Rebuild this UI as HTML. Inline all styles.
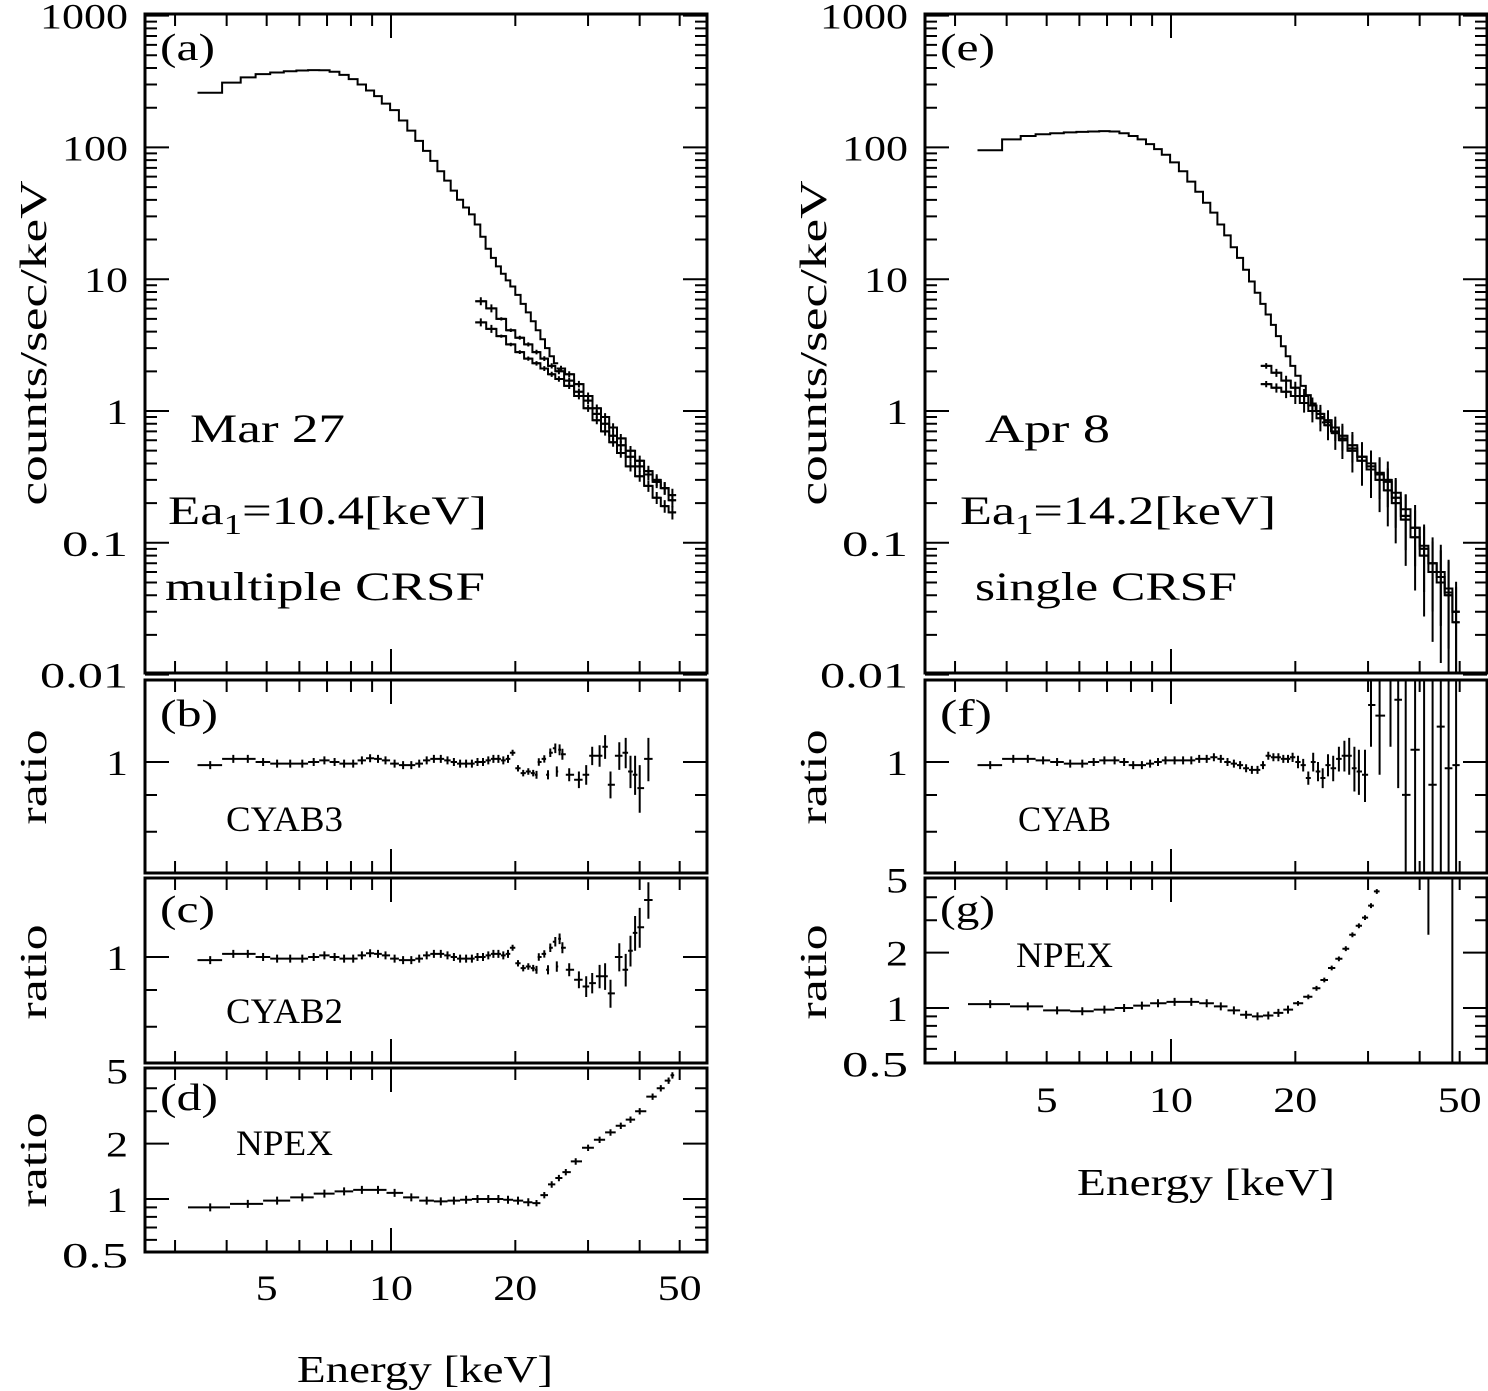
<!DOCTYPE html>
<html><head><meta charset="utf-8"><style>
html,body{margin:0;padding:0;background:#fff;overflow:hidden}
svg{display:block}
text{font-family:"Liberation Serif",serif;fill:#000}
</style></head><body>
<svg id="chart" width="1488" height="1391" viewBox="0 0 1488 1391" xmlns="http://www.w3.org/2000/svg"></svg>
<script>
// ---------- data ----------
const gridA = [3.65,4.15,4.5,4.9,5.3,5.7,6.1,6.5,6.9,7.3,7.7,8.1,8.5,8.9,9.3,9.7,10.2,10.7,11.2,11.7,12.2,12.7,13.2,13.7,14.2,14.7,15.2,15.7,16.2,16.7,17.2,17.7,18.2,18.7,19.2,19.7,20.3,20.9,21.5,22.1,22.7,23.3,23.9,24.5,25.1];
const specA = [260,310,340,360,370,378,383,386,385,375,355,330,300,270,245,215,192,160,134,112,94,79,66,56,47,40,35,31,26,21,17,14.5,12.5,11,9.8,8.8,7.6,6.5,5.6,4.8,4.1,3.5,3.0,2.6,2.3];
const tailEA = [16.5,17.5,18.5,19.5,20.5,21.5,22.5,23.5,24.5,25.5,27,28.5,30,31.5,33,34.5,36,38,40,42,44,46,48];
const tailA1 = [6.8,6.0,5.0,4.1,3.6,3.2,2.8,2.5,2.2,2.0,1.7,1.4,1.2,0.95,0.8,0.65,0.55,0.45,0.38,0.33,0.29,0.26,0.23];
const tailA2 = [4.7,4.2,3.7,3.2,2.8,2.5,2.3,2.1,1.9,1.75,1.55,1.3,1.05,0.85,0.7,0.58,0.48,0.38,0.32,0.27,0.22,0.19,0.17];
const tailA3E = [25.8,27,28.5,30,31.5,33,34.5,36,38,40,42,44,46,48];
const tailA3 = [2.1,1.9,1.6,1.3,1.05,0.9,0.75,0.62,0.5,0.42,0.35,0.3,0.26,0.21];

const gridE = [3.65,4.15,4.5,4.9,5.3,5.7,6.1,6.5,6.9,7.3,7.7,8.1,8.5,8.9,9.3,9.7,10.2,10.7,11.2,11.7,12.2,12.7,13.2,13.7,14.2,14.7,15.2,15.7,16.2,16.7,17.2,17.7,18.2,18.7,19.2,19.7,20.3,20.9,21.5,22.1,22.7,23.3];
const specE = [95,115,122,126,128,130,131,132,133,132,128,122,115,106,97,88,77,66,55,46,38,32,26,21.5,17.5,14.5,11.8,9.6,7.9,6.5,5.4,4.5,3.7,3.1,2.6,2.2,1.85,1.55,1.32,1.14,1.0,0.9];
const tailEE = [17,18,19,20,21,22,23,24,25,26,27.5,29,30.5,32,33.5,35,37,39,41,43,45,47,49];
const tailE1 = [2.2,1.95,1.7,1.5,1.3,1.1,0.95,0.85,0.75,0.65,0.55,0.45,0.38,0.33,0.3,0.22,0.16,0.13,0.09,0.07,0.06,0.045,0.03];
const tailE2 = [1.6,1.5,1.4,1.3,1.15,1.0,0.88,0.78,0.68,0.6,0.5,0.42,0.36,0.3,0.25,0.2,0.15,0.11,0.08,0.06,0.05,0.04,0.025];
const tailE3E = [23.8,25,26,27.5,29,30.5,32,33.5,35,37,39,41,43,45,47,49];
const tailE3 = [0.82,0.7,0.62,0.52,0.45,0.4,0.34,0.29,0.24,0.18,0.13,0.095,0.07,0.055,0.042,0.03];

const ratioLowE = [3.65,4.15,4.5,4.9,5.3,5.7,6.1,6.5,6.9,7.3,7.7,8.1,8.5,8.9,9.3,9.7,10.2,10.7,11.2,11.7,12.2,12.7,13.2,13.7,14.2,14.7,15.2,15.7,16.2,16.7,17.2,17.7,18.2,18.7,19.2];
const ratioBLow = [0.99,1.01,1.01,1.0,0.995,0.995,0.995,1.0,1.005,1.0,0.995,0.995,1.005,1.012,1.01,1.005,0.995,0.99,0.99,0.995,1.005,1.01,1.01,1.005,1.0,0.995,0.995,0.995,1.0,1.0,1.005,1.01,1.01,1.005,1.01];
const ratioBHiE = [19.7,20.3,20.9,21.5,22.1,22.5,22.8,23.5,24.0,24.3,25.0,25.2,25.6,26.0,27,28.5,29.7,30.7,32,33,34,35.7,37,38,39,40,42];
const ratioBHi = [1.03,0.98,0.965,0.97,0.965,0.96,1.0,1.01,0.96,1.03,1.045,0.97,1.04,1.025,0.96,0.945,0.96,1.02,1.02,1.05,0.93,1.02,1.03,0.97,0.96,0.92,1.01];
const ratioBErr = [0.01,0.01,0.01,0.01,0.01,0.012,0.012,0.012,0.014,0.014,0.016,0.016,0.018,0.018,0.02,0.025,0.03,0.03,0.035,0.04,0.04,0.045,0.05,0.05,0.06,0.07,0.07];
const ratioCHi = [1.03,0.98,0.965,0.97,0.965,0.96,1.0,1.01,0.96,1.03,1.05,0.97,1.06,1.03,0.96,0.93,0.91,0.92,0.94,0.94,0.89,1.0,0.96,1.02,1.08,1.1,1.2];
const ratioDE = [3.65,4.5,5.3,6.1,6.9,7.7,8.5,9.3,10.2,11.2,12.2,13.2,14.2,15.2,16.2,17.2,18.2,19.2,20.3,21.5,22.5,23.5,24.5,25.5,26.5,28,30,32,34,36,38,40,43,45,47,48];
const ratioD = [0.9,0.94,0.98,1.02,1.07,1.1,1.12,1.12,1.08,1.02,0.98,0.97,0.98,0.99,1.0,1.0,1.0,0.99,0.98,0.96,0.95,1.05,1.2,1.3,1.4,1.6,1.9,2.1,2.3,2.5,2.7,3.0,3.6,4.0,4.4,4.7];
const ratioFLow = [0.99,1.01,1.01,1.005,1.0,0.995,0.995,1.0,1.005,1.005,1.0,0.99,0.99,0.995,1.0,1.005,1.005,1.005,1.005,1.01,1.01,1.015,1.01,1.0,0.995,0.99,0.98,0.975,0.975,0.99,1.02,1.015,1.015,1.01,1.01];
const ratioFHiE = [19.7,20.3,20.9,21.5,22.1,22.7,23.3,24,24.7,25.5,26.3,27,27.8,28.5,29.5,30.5,32,34,35.5,37,39,41,43,45,47,49];
const ratioF = [1.015,1.0,0.99,0.95,1.0,0.97,0.95,0.99,0.98,1.01,1.02,1.02,0.98,0.97,0.96,1.2,1.16,1.3,1.22,0.9,1.04,0.7,0.93,1.12,0.98,0.99];
const ratioFErr = [0.015,0.02,0.02,0.02,0.03,0.03,0.03,0.035,0.04,0.04,0.05,0.06,0.07,0.07,0.08,0.15,0.2,0.25,0.3,0.4,0.5,0.6,0.7,0.8,1.0,1.0];
const ratioGE = [3.65,4.5,5.3,6.1,6.9,7.7,8.5,9.3,10.2,11.2,12.2,13.2,14.2,15.2,16.2,17.2,18.2,19.2,20.3,21.5,22.5,23.5,24.5,25.5,26.5,27.5,28.5,29.5,30.5,31.5];
const ratioG = [1.05,1.02,0.97,0.96,0.98,1.0,1.03,1.06,1.08,1.08,1.06,1.02,0.97,0.92,0.9,0.91,0.94,0.98,1.06,1.15,1.28,1.42,1.65,1.85,2.1,2.5,2.8,3.1,3.6,4.3];

const yTickMain = ["1000","100","10","1","0.1","0.01"];
const yTickMainVal = [1000,100,10,1,0.1,0.01];
const xTickVal = [5,10,20,50];
const xTickLab = ["5","10","20","50"];

// ---------- helpers ----------
const svg = document.getElementById('chart');
const NS = 'http://www.w3.org/2000/svg';
function mk(tag, attrs, parent){const e=document.createElementNS(NS,tag);for(const k in attrs)e.setAttribute(k,attrs[k]);(parent||svg).appendChild(e);return e;}
const L=Math.log10;
function xAxis(off){return E=>off+391+413*L(E/10);}
const xl=xAxis(0), xr=xAxis(780);
function yLog(y1,k){return v=>y1-k*L(v);}
const yA=yLog(411,131.8);
const yB=yLog(762,720), yC=yLog(957,720), yD=yLog(1199,184), yF=yLog(762,720), yG=yLog(1008,184);

function edges(E){const ed=[];for(let i=0;i<E.length;i++){const lo=i===0?E[0]-(E[1]-E[0])/2:(E[i-1]+E[i])/2;const hi=i===E.length-1?E[i]+(E[i]-E[i-1])/2:(E[i]+E[i+1])/2;ed.push([lo,hi]);}return ed;}
function clipGroup(id,x0,y0,x1,y1,name){const cp=mk('clipPath',{id:id});mk('rect',{x:x0,y:y0,width:x1-x0,height:y1-y0},cp);const g=mk('g',{'clip-path':'url(#'+id+')'});return g;}
function stepLine(E,V,xf,yf,g,name){const ed=edges(E);let d='';ed.forEach((b,i)=>{const y=yf(V[i]);d+=(i===0?'M':'L')+xf(b[0]).toFixed(1)+','+y.toFixed(1)+'L'+xf(b[1]).toFixed(1)+','+y.toFixed(1);});const p=mk('path',{d:d,fill:'none',stroke:'#000','stroke-width':2},g);}
function crosses(E,V,Err,xf,yf,g,name,relErr,ymax){const ed=edges(E);let d='';ed.forEach((b,i)=>{const y=yf(V[i]);const x=xf(E[i]);d+='M'+xf(b[0]).toFixed(1)+','+y.toFixed(1)+'L'+xf(b[1]).toFixed(1)+','+y.toFixed(1);const e=Err?Err[i]:0;let lo,hi;if(relErr){lo=V[i]*(1-e);hi=V[i]*(1+e);}else{lo=V[i]-e;hi=V[i]+e;}const yl=lo>0?Math.min(yf(lo),ymax):ymax;const yh=yf(hi);if(Math.abs(yl-yh)>3)d+='M'+x.toFixed(1)+','+yh.toFixed(1)+'L'+x.toFixed(1)+','+yl.toFixed(1);else d+='M'+x.toFixed(1)+','+(y-4).toFixed(1)+'L'+x.toFixed(1)+','+(y+4).toFixed(1);});const p=mk('path',{d:d,fill:'none',stroke:'#000','stroke-width':2},g);}
function txt(x,y,s,size,anchor,name,w,extra){const a=Object.assign({x:x,y:y,'font-size':size,'text-anchor':anchor||'start'},extra||{});if(w){a.textLength=w;a.lengthAdjust='spacingAndGlyphs';}const t=mk('text',a);t.textContent=s;return t;}
function eaLabel(x,y,val,w,name){const t=mk('text',{x:x,y:y,'font-size':40,textLength:w,lengthAdjust:'spacingAndGlyphs'});
  const a=mk('tspan',{},t);a.textContent='Ea';const b=mk('tspan',{'font-size':28,dy:10},t);b.textContent='1';const c=mk('tspan',{dy:-10},t);c.textContent='='+val+'[keV]';}

const minorE=[3,4,5,6,7,8,9,20,30,40,50];
function frame(x0,y0,x1,y1,xf,name,yTicks){
  const g=mk('g',{});
  mk('rect',{x:x0,y:y0,width:x1-x0,height:y1-y0,fill:'none',stroke:'#000','stroke-width':3},g);
  let d='';
  minorE.forEach(E=>{const x=xf(E);d+=`M${x},${y0}v12M${x},${y1}v-12`;});
  const x10=xf(10);d+=`M${x10},${y0}v24M${x10},${y1}v-24`;
  (yTicks||[]).forEach(t=>{d+=`M${x0},${t[0]}h${t[1]}M${x1},${t[0]}h${-t[1]}`;});
  mk('path',{d:d,stroke:'#000','stroke-width':2,fill:'none'},g);
}
function mainTicks(yf){const t=[];for(let dec=-2;dec<=3;dec++){const b=Math.pow(10,dec);t.push([yf(b),24]);if(dec<3)for(let m=2;m<=9;m++)t.push([yf(b*m),12]);}return t;}
const rTicks=yf=>[[yf(1),24],[yf(0.9),12],[yf(0.8),12]];
const npTicks=yf=>[[yf(1),24],[yf(2),24],[yf(0.6),12],[yf(0.7),12],[yf(0.8),12],[yf(0.9),12],[yf(3),12],[yf(4),12]];

// ---------- panel (a) ----------
frame(145,14,707,673,xl,'panel-a-frame',mainTicks(yA));
let g=clipGroup('ca',145,14,707,673,'panel-a-data');
stepLine(gridA,specA,xl,yA,g,'mar27-model');
stepLine(tailEA,tailA1,xl,yA,g,'mar27-spectrum-1');
stepLine(tailEA,tailA2,xl,yA,g,'mar27-spectrum-2');
stepLine(tailA3E,tailA3,xl,yA,g,'mar27-spectrum-3');
crosses(tailEA,tailA1,tailEA.map(e=>0.02+(e-16)*0.003),xl,yA,g,'mar27-data-1',true,673);
crosses(tailEA,tailA2,tailEA.map(e=>0.02+(e-16)*0.003),xl,yA,g,'mar27-data-2',true,673);
crosses(tailA3E,tailA3,tailA3E.map(e=>0.02+(e-16)*0.003),xl,yA,g,'mar27-data-3',true,673);
yTickMain.forEach((s,i)=>txt(128,yA(yTickMainVal[i])+13,s,36,'end','y-tick-a',22*s.length));
txt(160,60,'(a)',38,'start','panel-label-a',55);
txt(190,442,'Mar 27',40,'start','date-label-mar27',155);
eaLabel(168,524,'10.4',319,'energy-label-a');
txt(165,600,'multiple CRSF',40,'start','model-label-a',320);
txt(46,343,'counts/sec/keV',38,'middle','y-axis-title-a',325,{transform:'rotate(-90 46 343)'});

// ---------- panel (b) ----------
frame(145,680,707,873,xl,'panel-b-frame',rTicks(yB));
g=clipGroup('cb',145,680,707,873,'panel-b-data');
crosses(ratioLowE,ratioBLow,ratioLowE.map(()=>0.003),xl,yB,g,'cyab3-ratio-low',false,873);
crosses(ratioBHiE,ratioBHi,ratioBErr,xl,yB,g,'cyab3-ratio-high',false,873);
txt(128,775,'1',36,'end','y-tick-b',22);
txt(160,726,'(b)',38,'start','panel-label-b',58);
txt(226,831,'CYAB3',36,'start','model-label-b',117);
txt(46,777,'ratio',38,'middle','y-axis-title-b',95,{transform:'rotate(-90 46 777)'});

// ---------- panel (c) ----------
frame(145,878,707,1063,xl,'panel-c-frame',rTicks(yC));
g=clipGroup('cc',145,878,707,1063,'panel-c-data');
crosses(ratioLowE,ratioBLow,ratioLowE.map(()=>0.003),xl,yC,g,'cyab2-ratio-low',false,1063);
crosses(ratioBHiE,ratioCHi,ratioBErr,xl,yC,g,'cyab2-ratio-high',false,1063);
txt(128,970,'1',36,'end','y-tick-c',22);
txt(160,922,'(c)',38,'start','panel-label-c',55);
txt(226,1023,'CYAB2',36,'start','model-label-c',117);
txt(46,972,'ratio',38,'middle','y-axis-title-c',95,{transform:'rotate(-90 46 972)'});

// ---------- panel (d) ----------
frame(145,1068,707,1252,xl,'panel-d-frame',npTicks(yD));
g=clipGroup('cd',145,1068,707,1252,'panel-d-data');
crosses(ratioDE,ratioD,ratioDE.map(e=>e<22?0.005:0.04),xl,yD,g,'npex-ratio-a',true,1252);
[[5,'5'],[2,'2'],[1,'1'],[0.5,'0.5']].forEach(t=>txt(128,yD(t[0])+13,t[1],36,'end','y-tick-d',22*t[1].length));
txt(160,1110,'(d)',38,'start','panel-label-d',58);
txt(236,1155,'NPEX',36,'start','model-label-d',97);
txt(46,1160,'ratio',38,'middle','y-axis-title-d',95,{transform:'rotate(-90 46 1160)'});
xTickVal.forEach((v,i)=>txt(xl(v),1300,xTickLab[i],36,'middle','x-tick-left',22*xTickLab[i].length));
txt(425,1382,'Energy [keV]',38,'middle','x-axis-title-left',256);

// ---------- panel (e) ----------
frame(925,14,1487,673,xr,'panel-e-frame',mainTicks(yA));
g=clipGroup('ce',925,14,1487,673,'panel-e-data');
stepLine(gridE,specE,xr,yA,g,'apr8-model');
stepLine(tailEE,tailE1,xr,yA,g,'apr8-spectrum-1');
stepLine(tailEE,tailE2,xr,yA,g,'apr8-spectrum-2');
stepLine(tailE3E,tailE3,xr,yA,g,'apr8-spectrum-3');
crosses(tailEE,tailE1,tailEE.map(e=>0.03+(e-16)*0.02),xr,yA,g,'apr8-data-1',true,673);
crosses(tailEE,tailE2,tailEE.map(e=>0.03+(e-16)*0.025),xr,yA,g,'apr8-data-2',true,673);
yTickMain.forEach((s,i)=>txt(908,yA(yTickMainVal[i])+13,s,36,'end','y-tick-e',22*s.length));
txt(940,60,'(e)',38,'start','panel-label-e',55);
txt(985,442,'Apr 8',40,'start','date-label-apr8',125);
eaLabel(960,524,'14.2',316,'energy-label-e');
txt(975,600,'single CRSF',40,'start','model-label-e',262);
txt(826,343,'counts/sec/keV',38,'middle','y-axis-title-e',325,{transform:'rotate(-90 826 343)'});

// ---------- panel (f) ----------
frame(925,680,1487,873,xr,'panel-f-frame',rTicks(yF));
g=clipGroup('cf',925,680,1487,873,'panel-f-data');
crosses(ratioLowE,ratioFLow,ratioLowE.map(()=>0.003),xr,yF,g,'cyab-ratio-low',false,873);
crosses(ratioFHiE,ratioF,ratioFErr,xr,yF,g,'cyab-ratio-high',false,873);
txt(908,775,'1',36,'end','y-tick-f',22);
txt(940,726,'(f)',38,'start','panel-label-f',52);
txt(1018,831,'CYAB',36,'start','model-label-f',93);
txt(826,777,'ratio',38,'middle','y-axis-title-f',95,{transform:'rotate(-90 826 777)'});

// ---------- panel (g) ----------
frame(925,878,1487,1063,xr,'panel-g-frame',npTicks(yG));
g=clipGroup('cg',925,878,1487,1063,'panel-g-data');
crosses(ratioGE,ratioG,ratioGE.map(e=>e<20?0.004:0.03),xr,yG,g,'npex-ratio-e',true,1063);
const gl=mk('path',{d:`M${xr(42)},878V${yG(2.5)}M${xr(48)},878V1063`,stroke:'#000','stroke-width':2},g);


[[5,'5'],[2,'2'],[1,'1'],[0.5,'0.5']].forEach(t=>txt(908,yG(t[0])+13,t[1],36,'end','y-tick-g',22*t[1].length));
txt(940,922,'(g)',38,'start','panel-label-g',55);
txt(1016,967,'NPEX',36,'start','model-label-g',97);
txt(826,972,'ratio',38,'middle','y-axis-title-g',95,{transform:'rotate(-90 826 972)'});
xTickVal.forEach((v,i)=>txt(xr(v),1112,xTickLab[i],36,'middle','x-tick-right',22*xTickLab[i].length));
txt(1206,1195,'Energy [keV]',38,'middle','x-axis-title-right',258);
</script>
</body></html>
